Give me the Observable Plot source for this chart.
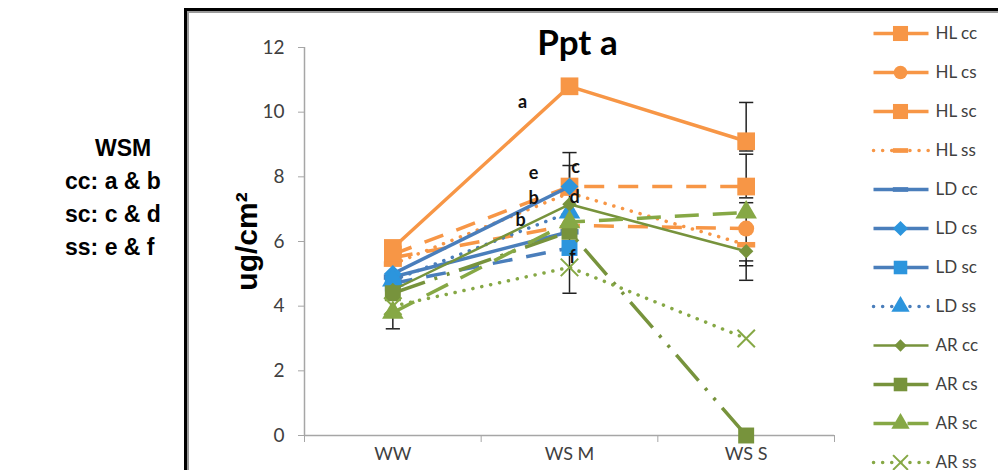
<!DOCTYPE html>
<html>
<head>
<meta charset="utf-8">
<script src="https://cdn.jsdelivr.net/npm/d3@7"></script>
<script src="https://cdn.jsdelivr.net/npm/@observablehq/plot@0.6"></script>
<style>
  html, body { margin: 0; padding: 0; background: #fff; width: 998px; height: 470px; overflow: hidden; position: relative; }
  #note { position: absolute; left: 65px; top: 132px; font: bold 23px "Liberation Sans", Arial, sans-serif; line-height: 33px; color: #000; }
  #frame { position: absolute; left: 184px; top: 8px; width: 900px; height: 520px; border: 3px solid #000; box-shadow: inset 1px 1px 0 1px #9a9a9a; }
  #chart { position: absolute; left: 188px; top: 13px; }
  #legend { position: absolute; left: 853px; top: 0px; }
</style>
</head>
<body>
<div id="note"><div style="padding-left:30px">WSM</div><div>cc: a &amp; b</div><div>sc: c &amp; d</div><div>ss: e &amp; f</div></div>
<div id="frame"></div>
<div id="chart"></div>
<div id="legend"></div>
<script>
// ---- data ----
const categories = ["WW", "WS M", "WS S"];
const yTicks = [0, 2, 4, 6, 8, 10, 12];
const seriesNames = ["HL cc", "HL cs", "HL sc", "HL ss", "LD cc", "LD cs", "LD sc", "LD ss", "AR cc", "AR cs", "AR sc", "AR ss"];
const hlCC = [5.8, 10.8, 9.1];
const hlCS = [5.5, 6.5, 6.4];
const hlSC = [5.6, 7.7, 7.7];
const hlSS = [5.3, 7.5, 5.9];
const ldCC = [4.9, 6.3, null];
const ldCS = [5.0, 7.7, null];
const ldSC = [4.7, 5.8, null];
const ldSS = [4.8, 6.9, null];
const arCC = [4.5, 7.15, 5.7];
const arCS = [4.4, 6.3, 0];
const arSC = [3.8, 6.6, 6.9];
const arSS = [4.0, 5.2, 3.0];
const errCategory = ["WW", "WS M", "WS M", "WS S", "WS S", "WS S", "WS S"];
const errLow = [3.3, 4.4, 7.7, 8.8, 7.35, 5.25, 4.8];
const errHigh = [3.8, 8.75, 8.35, 10.3, 8.7, 7.2, 5.4];
const letterText = ["a", "e", "c", "b", "d", "b", "f"];
const letterCategory = ["WS M", "WS M", "WS M", "WS M", "WS M", "WS M", "WS M"];
const letterValue = [10.3, 8.1, 8.29, 7.33, 7.36, 6.65, 5.51];

// ---- styles ----
const orange = "#F79646", blueLine = "#4A7EBB", blueMark = "#2C95DD", green = "#77933C", greenLt = "#86A845";
const dashSym = { draw(ctx, size) { const w = Math.sqrt(size) * 0.85, h = Math.sqrt(size) * 0.26; ctx.rect(-w, -h, 2 * w, 2 * h); } };
const capSym = { draw(ctx, size) { const w = Math.sqrt(size) / 2; ctx.moveTo(-w, 0); ctx.lineTo(w, 0); } };
const dotted = "0.1 9";
const seriesValues = [hlCC, hlCS, hlSC, hlSS, ldCC, ldCS, ldSC, ldSS, arCC, arCS, arSC, arSS];
const seriesStyle = [
  { color: orange, width: 3.5, dash: null, symbol: "square", r: 10, fill: orange, ldash: null },
  { color: orange, width: 3.5, dash: "20 14", symbol: "circle", r: 8, fill: orange, ldash: null },
  { color: orange, width: 3.5, dash: "20 14", symbol: "square", r: 10, fill: orange, ldash: null },
  { color: orange, width: 3.5, dash: dotted, symbol: dashSym, r: 6, fill: orange, ldash: dotted },
  { color: blueLine, width: 3.5, dash: null, symbol: dashSym, r: 6, fill: blueLine, ldash: null },
  { color: blueLine, width: 3.5, dash: null, symbol: "diamond2", r: 8, fill: blueMark, ldash: null },
  { color: blueLine, width: 3.5, dash: "20 14", symbol: "square", r: 9, fill: blueMark, ldash: null },
  { color: blueLine, width: 3.5, dash: dotted, symbol: "triangle", r: 8, fill: blueMark, ldash: dotted },
  { color: green, width: 2.5, dash: null, symbol: "diamond2", r: 6.5, fill: green, ldash: null },
  { color: green, width: 3.5, dash: "34 10 3 10 3 10", symbol: "square", r: 9, fill: green, ldash: null },
  { color: greenLt, width: 3.5, dash: "24 14", symbol: "triangle", r: 8, fill: greenLt, ldash: "22 12" },
  { color: greenLt, width: 3.5, dash: dotted, symbol: "times", r: 8, fill: "none", ldash: dotted }
];

const catIndex = c => categories.indexOf(c) + 0.5;
const rows = [];
seriesNames.forEach((s, k) => seriesValues[k].forEach((v, i) => { if (v != null) rows.push({ series: s, xi: i + 0.5, y: v }); }));
const errRows = errCategory.map((c, i) => ({ xi: catIndex(c), low: errLow[i], high: errHigh[i] }));
const letterDx = [-47, -36, 6, -36, 5, -49, 3];

const marks = [];
marks.push(Plot.ruleX([0], { stroke: "#A6A6A6", strokeWidth: 1.5 }));
marks.push(Plot.ruleY([0], { stroke: "#A6A6A6", strokeWidth: 1.5 }));
marks.push(Plot.axisY({ ticks: yTicks, tickSize: 6, tickPadding: 14, stroke: "#A6A6A6", fill: "#404040", label: null, fontSize: 19 }));
marks.push(Plot.axisX({ ticks: [0, 1, 2, 3], tickSize: 7, tickFormat: () => "", stroke: "#A6A6A6", label: null }));
marks.push(Plot.axisX({ ticks: [0.5, 1.5, 2.5], tickSize: 0, tickPadding: 12, tickFormat: d => categories[Math.floor(d)], fill: "#404040", label: null, fontSize: 18 }));
marks.push(Plot.ruleX(errRows, { x: "xi", y1: "low", y2: "high", stroke: "#222", strokeWidth: 1.5 }));
marks.push(Plot.dot(errRows, { x: "xi", y: "low", symbol: capSym, r: 8, stroke: "#222", strokeWidth: 1.5, fill: "none" }));
marks.push(Plot.dot(errRows, { x: "xi", y: "high", symbol: capSym, r: 8, stroke: "#222", strokeWidth: 1.5, fill: "none" }));
seriesNames.forEach((s, k) => {
  const st = seriesStyle[k];
  const d = rows.filter(r => r.series === s);
  marks.push(Plot.line(d, { x: "xi", y: "y", stroke: st.color, strokeWidth: st.width, strokeDasharray: st.dash, strokeLinecap: st.dash === dotted ? "round" : "butt" }));
  marks.push(Plot.dot(d, { x: "xi", y: "y", symbol: st.symbol, r: st.r, fill: st.fill, stroke: st.symbol === "times" ? st.color : "none", strokeWidth: 2 }));
});
letterText.forEach((t, i) => {
  marks.push(Plot.text([{ xi: catIndex(letterCategory[i]), y: letterValue[i] }], { x: "xi", y: "y", text: () => t, dx: letterDx[i], fontSize: 18, fill: "#111", fontWeight: "bold" }));
});
marks.push(Plot.text(["ug/cm²"], { frameAnchor: "left", textAnchor: "middle", dx: -57, rotate: -90, fontSize: 30, fontWeight: "bold", fontFamily: "Liberation Sans, Arial, sans-serif", fill: "#000" }));
marks.push(Plot.text(["Ppt a"], { frameAnchor: "top", lineAnchor: "middle", dx: 8, dy: -4, fontSize: 35, fontWeight: "bold", fill: "#000" }));

const chart = Plot.plot({
  width: 665, height: 457,
  marginLeft: 116, marginRight: 19, marginTop: 34, marginBottom: 35,
  x: { type: "linear", domain: [0, 3], axis: null },
  y: { domain: [0, 12], axis: null },
  style: { fontFamily: "Lato, sans-serif", fontSize: "19px", background: "transparent", overflow: "visible" },
  marks
});
document.getElementById("chart").append(chart);

// ---- legend ----
const legMarks = [];
seriesNames.forEach((s, k) => {
  const st = seriesStyle[k];
  legMarks.push(Plot.link([s], { x1: () => 20, x2: () => 75, y1: d => d, y2: d => d, stroke: st.color, strokeWidth: st.width, strokeDasharray: st.ldash, strokeLinecap: st.ldash === dotted ? "round" : "butt" }));
  legMarks.push(Plot.dot([s], { x: () => 47, y: d => d, symbol: st.symbol, r: st.r * 0.85, fill: st.fill, stroke: st.symbol === "times" ? st.color : "none", strokeWidth: 2 }));
});
legMarks.push(Plot.text(seriesNames, { x: () => 82, y: d => d, text: d => d, textAnchor: "start", fontSize: 17, fill: "#404040" }));
const legend = Plot.plot({
  width: 145, height: 470, margin: 0,
  x: { type: "linear", domain: [0, 145], range: [0, 145], axis: null },
  y: { type: "point", domain: seriesNames, range: [31, 464], padding: 0, axis: null },
  style: { fontFamily: "Lato, sans-serif", background: "transparent", overflow: "visible" },
  marks: legMarks
});
document.getElementById("legend").append(legend);
</script>
</body>
</html>
